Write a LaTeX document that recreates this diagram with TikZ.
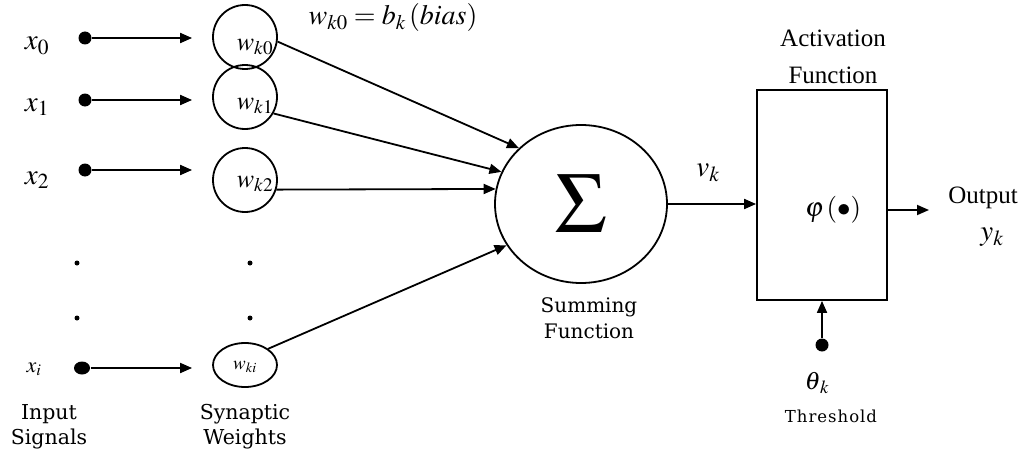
\documentclass[tikz,border=0pt]{standalone}
\usepackage{mathptmx}
\usepackage{fontspec}
\setmainfont{Liberation Serif}
\newfontfamily\wide{DejaVu Serif}
\newfontfamily\widesp[LetterSpace=6]{DejaVu Serif}
\usetikzlibrary{arrows.meta,shapes.geometric}
\begin{document}
\begin{tikzpicture}[x=1pt,y=-1pt,line width=1.8pt,
  arr/.style={-{Triangle[length=12pt,width=10pt]}},
  dotn/.style={circle,fill,inner sep=0pt,minimum size=13pt},
  vdot/.style={circle,fill,inner sep=0pt,minimum size=5pt},
  wc/.style={circle,draw,inner sep=0pt,minimum size=64pt},
  mlab/.style={inner sep=0pt,font=\fontsize{29}{29}\selectfont},
  wlab/.style={inner sep=0pt,font=\fontsize{26}{26}\selectfont},
  lab/.style={align=center,inner sep=0pt,font=\wide\fontsize{20.5}{25}\selectfont},
  tlab/.style={align=center,inner sep=0pt,font=\fontsize{25}{37}\selectfont}]
\useasboundingbox[fill=white] (0,0) rectangle (1022,452);

% input labels and dots
\node[mlab] (x0) at (37,46) {$x_0$};
\node[mlab] (x1) at (37,107) {$x_1$};
\node[mlab] (x2) at (37,180) {$x_2$};
\node[inner sep=0pt,font=\fontsize{22}{22}\selectfont] (xi) at (34,369) {$x_i$};
\node[dotn] (d0) at (85,38) {};
\node[dotn] (d1) at (85,100) {};
\node[dotn] (d2) at (85,170) {};
\node[ellipse,fill,inner sep=0pt,minimum width=16pt,minimum height=13pt] (di) at (82,368) {};

% weights
\node[wc] (w0) at (245,37) {};
\node[wc] (w1) at (245,97) {};
\node[wc] (w2) at (245,180) {};
\node[ellipse,draw,inner sep=0pt,minimum width=64pt,minimum height=44pt] (wi) at (245,365) {};
\node[wlab] (tw0) at (255,47) {$w_{k0}$};
\node[wlab] (tw1) at (255,106) {$w_{k1}$};
\node[wlab] (tw2) at (255,184) {$w_{k2}$};
\node[inner sep=0pt,font=\fontsize{19}{19}\selectfont] (twi) at (245,367) {$w_{ki}$};

% vertical dots
\node[vdot] (v1) at (77,263) {};
\node[vdot] (v2) at (77,318) {};
\node[vdot] (v3) at (250,263) {};
\node[vdot] (v4) at (250,318) {};

% input arrows
\draw[arr,shorten >=20pt] (d0) -- (d0 -| w0.west);
\draw[arr,shorten >=20pt] (d1) -- (d1 -| w1.west);
\draw[arr,shorten >=20pt] (d2) -- (d2 -| w2.west);
\draw[arr,shorten >=20pt] (di) -- (di -| wi.west);

\node[lab] (ins) at (49,427) {Input\\Signals};
\node[lab] (syn) at (245,427) {Synaptic\\Weights};

% summing junction
\node[ellipse,draw,inner sep=0pt,minimum width=172pt,minimum height=158pt,
      font=\fontsize{86}{86}\selectfont] (sum) at (581,204) {$\Sigma$};
\draw[arr] (w0.-8) -- (sum.138);
\draw[arr] (w1.-30) -- (sum.158);
\draw[arr] (w2.-17) -- (sum.170);
\draw[arr] (wi.35) -- (sum.209);

\node[inner sep=0pt,font=\fontsize{28}{28}\selectfont] (bias) at (393,18) {$w_{k0}=b_k\,(\mathit{bias})$};
\node[align=center,inner sep=0pt,font=\wide\fontsize{20}{26}\selectfont] (sf) at (589,318) {Summing\\Function};

% activation box with phi inside
\node[draw,minimum width=130pt,minimum height=210pt,inner sep=0pt,
      font=\fontsize{27}{27}\selectfont] (box) at (822,195)
      {\hspace*{22pt}\raisebox{-21pt}[0pt][0pt]{$\varphi\,(\bullet)$}};
\node[tlab] (af) at (833,57) {Activation\\Function};
\draw[arr] (sum.east) -- (sum.east -| box.west);
\node[mlab] (vk) at (708,173) {$v_k$};

\coordinate (oend) at (929,210);
\draw[arr] (oend -| box.east) -- (oend);
\node[inner sep=0pt,font=\fontsize{25}{25}\selectfont] (out) at (983,198) {Output};
\node[mlab] (yk) at (992,237) {$y_k$};

% threshold
\node[dotn] (td) at (822,345) {};
\draw[arr] (td) -- (box.south);
\node[inner sep=0pt,font=\fontsize{25}{25}\selectfont] (th) at (817,383) {$\theta_{\,k}$};
\node[inner sep=0pt,font=\widesp\fontsize{16.5}{16.5}\selectfont] (thr) at (831,416) {Threshold};
\end{tikzpicture}
\end{document}
